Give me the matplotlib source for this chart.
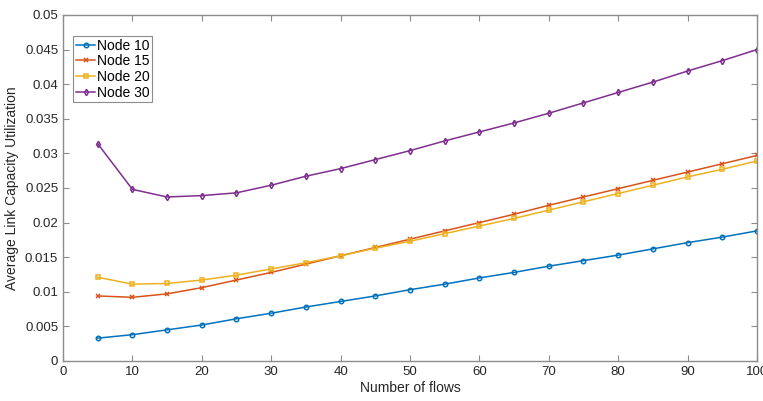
import matplotlib.pyplot as plt
import numpy as np
from matplotlib.ticker import FuncFormatter

# 数据
flows = [5, 10, 15, 20, 25, 30, 35, 40, 45, 50, 55, 60, 65, 70, 75, 80, 85, 90, 95, 100]
node10 = [0.0033, 0.0038, 0.0045, 0.0052, 0.0061, 0.0069, 0.0078, 0.0086, 0.0094, 0.0103,
          0.0111, 0.0120, 0.0128, 0.0137, 0.0145, 0.0153, 0.0162, 0.0171, 0.0179, 0.0188]
node15 = [0.0094, 0.0092, 0.0097, 0.0106, 0.0117, 0.0128, 0.0140, 0.0152, 0.0164, 0.0176,
          0.0188, 0.0200, 0.0212, 0.0225, 0.0237, 0.0249, 0.0261, 0.0273, 0.0285, 0.0297]
node20 = [0.0121, 0.0111, 0.0112, 0.0117, 0.0124, 0.0133, 0.0142, 0.0152, 0.0163, 0.0173,
          0.0184, 0.0195, 0.0206, 0.0218, 0.0230, 0.0242, 0.0254, 0.0266, 0.0277, 0.0289]
node30 = [0.0314, 0.0248, 0.0237, 0.0239, 0.0243, 0.0254, 0.0267, 0.0278, 0.0291, 0.0304,
          0.0318, 0.0331, 0.0344, 0.0358, 0.0373, 0.0388, 0.0403, 0.0419, 0.0434, 0.0450]
labels = ["Node 10", "Node 15", "Node 20", "Node 30"]
xticks = [0, 10, 20, 30, 40, 50, 60, 70, 80, 90, 100]
yticks = [0, 0.005, 0.01, 0.015, 0.02, 0.025, 0.03, 0.035, 0.04, 0.045, 0.05]

plt.rcParams['font.family'] = ['Arial', 'Liberation Sans', 'DejaVu Sans']
fig = plt.figure(figsize=(7.63, 4.01), dpi=100)
ax = fig.add_axes([0.0826, 0.0998, 0.9094, 0.8628])

# MATLAB默认配色
ax.plot(flows, node10, '-o', color='#0072BD', lw=1.1, ms=3.2, mfc='none', mew=1.1, label=labels[0])
ax.plot(flows, node15, '-x', color='#D95319', lw=1.1, ms=2.8, mew=1.1, label=labels[1])
ax.plot(flows, node20, '-s', color='#EDB120', lw=1.1, ms=2.8, mfc='none', mew=1.1, label=labels[2])
ax.plot(flows, node30, '-d', color='#7E2F8E', lw=1.1, ms=3.2, mfc='none', mew=1.1, label=labels[3])

ax.set_xlim(0, 100)
ax.set_ylim(0, 0.05)
ax.set_xticks(xticks)
ax.set_yticks(yticks)
ax.yaxis.set_major_formatter(FuncFormatter(lambda v, p: "0" if v == 0 else ("%g" % round(v, 4))))
ax.set_xlabel("Number of flows", fontsize=10, color='#262626', labelpad=2)
ax.set_ylabel("Average Link Capacity Utilization", fontsize=10, color='#262626', labelpad=4)

for s in ax.spines.values():
    s.set_color('#8c8c8c')
    s.set_linewidth(1.0)
ax.tick_params(direction='in', length=4, width=0.8, colors='#8c8c8c', labelcolor='#262626',
               labelsize=9.5, top=True, right=True)

leg = ax.legend(loc='upper left', bbox_to_anchor=(0.0144, 0.94), fontsize=10, fancybox=False,
                framealpha=1, edgecolor='#8c8c8c', handlelength=1.4, handletextpad=0.1,
                borderpad=0.2, labelspacing=0.12, borderaxespad=0.0)
leg.get_frame().set_linewidth(0.8)

plt.savefig("out.png", dpi=100)
